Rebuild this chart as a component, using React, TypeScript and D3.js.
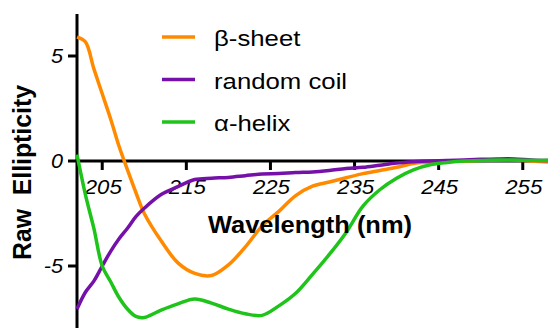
import React, { useEffect, useRef } from 'react';
import * as d3 from 'd3';

const wavelengths = [202, 203, 204, 205, 206, 207, 208, 209, 210, 212, 214, 216, 218, 220, 222, 224, 226, 228, 230,
    232, 234, 236, 238, 240, 242, 244, 246, 248, 250, 252, 254, 256, 258];
const betaSheet = [5.9, 5.67, 4.4, 3.2, 2.0, 0.7, -0.42, -1.5, -2.5, -3.8, -4.85, -5.35, -5.45, -4.95, -4.1, -3.1, -2.4, -1.65, -1.2,
    -1.0, -0.8, -0.6, -0.45, -0.3, -0.12, -0.05, 0, 0, 0.03, 0.05, 0.05, 0, -0.05];
const randomCoil = [-7.05, -6.25, -5.72, -5.0, -4.3, -3.7, -3.2, -2.65, -2.25, -1.6, -1.22, -0.88, -0.82, -0.78, -0.7, -0.62, -0.6, -0.55, -0.52,
    -0.45, -0.36, -0.3, -0.2, -0.1, -0.04, 0, 0.02, 0.05, 0.08, 0.1, 0.1, 0.05, 0.02];
const alphaHelix = [0.3, -1.6, -3.2, -5.0, -5.75, -6.5, -7.05, -7.4, -7.45, -7.1, -6.8, -6.57, -6.77, -7.05, -7.27, -7.35, -6.9, -6.3, -5.4,
    -4.45, -3.4, -2.15, -1.37, -0.82, -0.42, -0.18, -0.07, 0, 0.02, 0.05, 0.05, 0.03, 0.03];
const seriesNames = ["β-sheet", "random coil", "α-helix"];
const seriesColors = ["#ff8a00", "#7510a8", "#1ec41a"];
const xTicks = [205, 215, 225, 235, 245, 255];
const yTicks = [5, 0, -5];

const App = () => {
    const ref = useRef(null);

    useEffect(() => {
        const svgElement = d3.select(ref.current);
        svgElement.selectAll("*").remove();

        const margin = { top: 14, right: 0, bottom: 0, left: 77 },
            width = 548 - margin.left - margin.right,
            height = 328 - margin.top - margin.bottom;
        const font = "'Liberation Sans', Arial, sans-serif";

        const svg = svgElement
            .attr("width", 548)
            .attr("height", 328)
            .append("g")
            .attr("transform", `translate(${margin.left},${margin.top})`);

        const x = d3.scaleLinear().domain([202, 258]).range([0, 471]);
        const y = d3.scaleLinear().domain([7, -8]).range([0, 315]);

        // axes
        svg.append("line")
            .attr("x1", 0).attr("x2", 0)
            .attr("y1", 0).attr("y2", height + 2)
            .attr("stroke", "#000").attr("stroke-width", 3);
        svg.append("line")
            .attr("x1", 0).attr("x2", width)
            .attr("y1", y(0)).attr("y2", y(0))
            .attr("stroke", "#000").attr("stroke-width", 3);

        svg.selectAll(".xtick")
            .data(xTicks)
            .enter().append("line")
            .attr("x1", d => x(d)).attr("x2", d => x(d))
            .attr("y1", y(0)).attr("y2", y(0) + 9)
            .attr("stroke", "#000").attr("stroke-width", 3);
        svg.selectAll(".xlabel")
            .data(xTicks)
            .enter().append("text")
            .attr("x", d => x(d) + 1)
            .attr("y", y(0) + 33)
            .attr("text-anchor", "middle")
            .attr("font-family", font)
            .attr("font-style", "italic")
            .attr("font-size", 20)
            .attr("textLength", 37)
            .attr("lengthAdjust", "spacingAndGlyphs")
            .text(d => d);

        svg.selectAll(".ytick")
            .data(yTicks)
            .enter().append("line")
            .attr("x1", -9).attr("x2", 0)
            .attr("y1", d => y(d)).attr("y2", d => y(d))
            .attr("stroke", "#000").attr("stroke-width", 3);
        svg.selectAll(".ylabel")
            .data(yTicks)
            .enter().append("text")
            .attr("transform", d => `translate(-14,${y(d)}) scale(1.08,1)`)
            .attr("dy", "0.36em")
            .attr("text-anchor", "end")
            .attr("font-family", font)
            .attr("font-style", "italic")
            .attr("font-size", 20)
            .text(d => d);

        // titles
        svgElement.append("text")
            .attr("x", 208)
            .attr("y", 233)
            .attr("font-family", font)
            .attr("font-weight", "bold")
            .attr("font-size", 23)
            .attr("textLength", 204)
            .attr("lengthAdjust", "spacingAndGlyphs")
            .text("Wavelength (nm)");

        svgElement.append("text")
            .attr("transform", "translate(31,172.5) rotate(-90)")
            .attr("text-anchor", "middle")
            .attr("font-family", font)
            .attr("font-weight", "bold")
            .attr("font-size", 26)
            .attr("textLength", 175)
            .attr("lengthAdjust", "spacingAndGlyphs")
            .style("white-space", "pre")
            .text("Raw  Ellipticity");

        // curves
        const allSeries = [betaSheet, randomCoil, alphaHelix];
        const line = d3.line()
            .x((d, i) => x(wavelengths[i]))
            .y(d => y(d))
            .curve(d3.curveCatmullRom.alpha(0.5));

        svg.selectAll(".series")
            .data(allSeries)
            .enter().append("path")
            .attr("d", d => line(d))
            .attr("fill", "none")
            .attr("stroke", (d, i) => seriesColors[i])
            .attr("stroke-width", 3.5)
            .attr("stroke-linejoin", "round");

        // legend
        const legend = svgElement.selectAll(".legend")
            .data(seriesNames)
            .enter().append("g")
            .attr("transform", (d, i) => `translate(162,${37 + i * 42.5})`);
        legend.append("line")
            .attr("x1", 0).attr("x2", 33)
            .attr("stroke", (d, i) => seriesColors[i])
            .attr("stroke-width", 3.5);
        legend.append("text")
            .attr("transform", "translate(52,9) scale(1.12,1)")
            .attr("font-family", font)
            .attr("font-size", 23)
            .text(d => d);
    }, []);

    return <svg ref={ref} style={{ position: 'absolute', left: 0, top: 0 }} />;
};

export default App;
